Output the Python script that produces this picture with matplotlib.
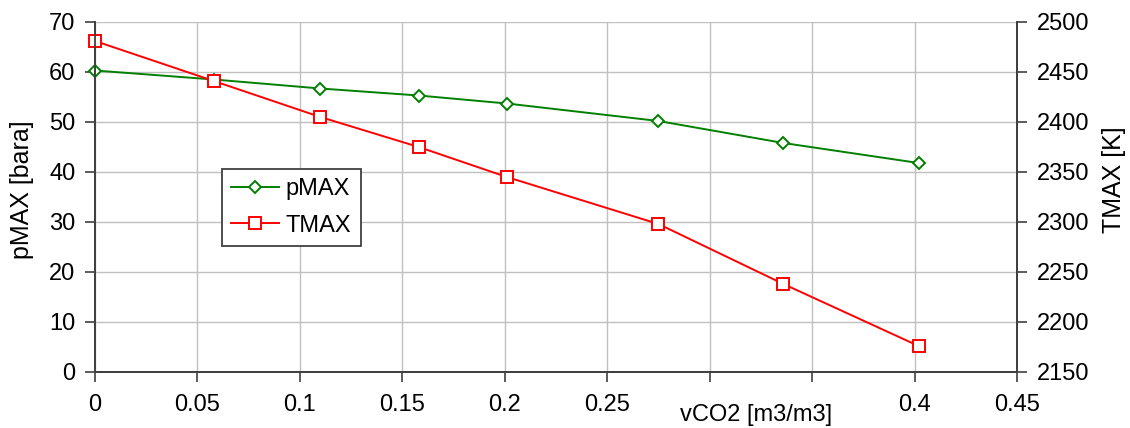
import matplotlib
matplotlib.use("Agg")
import matplotlib.pyplot as plt

plt.rcParams['font.family'] = ['Liberation Sans', 'DejaVu Sans']

x_vals = [0.0, 0.058, 0.110, 0.158, 0.201, 0.275, 0.336, 0.402]
p_max = [60.3, 58.5, 56.7, 55.3, 53.7, 50.2, 45.8, 41.8]
t_max = [2481, 2441, 2405, 2375, 2345, 2298, 2238, 2176]

x_ticks = [0, 0.05, 0.1, 0.15, 0.2, 0.25, 0.3, 0.35, 0.4, 0.45]
x_ticklabels = ['0', '0.05', '0.1', '0.15', '0.2', '0.25', '', '', '0.4', '0.45']
left_ticks = [0, 10, 20, 30, 40, 50, 60, 70]
right_ticks = [2150, 2200, 2250, 2300, 2350, 2400, 2450, 2500]

FS = 17

fig = plt.figure(figsize=(11.3, 4.28), dpi=100)
ax = fig.add_axes([95/1130, 1 - 372/428, (1017-95)/1130, (372-22)/428])
ax2 = ax.twinx()

ax.set_xlim(0, 0.45)
ax.set_ylim(0, 70)
ax2.set_ylim(2150, 2500)

ax.set_xticks(x_ticks)
ax.set_xticklabels(x_ticklabels)
ax.set_yticks(left_ticks)
ax2.set_yticks(right_ticks)

ax.grid(True, color='#c0c0c0', linewidth=1)
ax.set_axisbelow(True)

for a in (ax, ax2):
    a.spines['top'].set_visible(False)
    for s in ('left', 'right', 'bottom'):
        a.spines[s].set_color('#404040')
        a.spines[s].set_linewidth(1.3)
    a.tick_params(labelsize=FS, length=7, width=1.2, color='#404040', pad=7)
ax.tick_params(axis='x', pad=9)

l1, = ax.plot(x_vals, p_max, color='#008000', linewidth=1.4, marker='D', markersize=6.5,
              markerfacecolor='white', markeredgecolor='#008000', markeredgewidth=1.4, label='pMAX')
l2, = ax2.plot(x_vals, t_max, color='#ff0000', linewidth=1.4, marker='s', markersize=8.5,
               markerfacecolor='white', markeredgecolor='#ff0000', markeredgewidth=1.4, label='TMAX')
l1.set_clip_on(False)
l2.set_clip_on(False)

ax.set_ylabel('pMAX [bara]', fontsize=FS + 1)
ax.yaxis.set_label_coords((34-95)/922, 0.52)
ax2.set_ylabel('TMAX [K]', fontsize=FS + 1)
ax2.yaxis.set_label_coords((1102-95)/922, 0.55)
fig.text(756/1130, 2/428, 'vCO2 [m3/m3]', fontsize=FS, ha='center', va='bottom')

leg = ax2.legend(handles=[l1, l2], loc='upper left', bbox_to_anchor=((222-95)/922, (372-169)/350),
                 fontsize=FS, frameon=True, fancybox=False, edgecolor='#404040',
                 handlelength=2.0, handletextpad=0.3, borderpad=0.4, borderaxespad=0,
                 labelspacing=0.6, framealpha=1)
leg.get_frame().set_linewidth(1.3)

fig.savefig('out.png', dpi=100)
